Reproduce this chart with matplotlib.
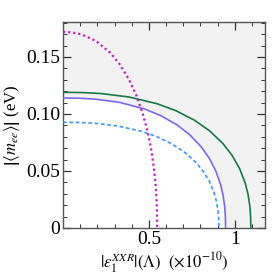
import numpy as np
import matplotlib
matplotlib.use("Agg")
import matplotlib.pyplot as plt
from matplotlib.ticker import MultipleLocator, FixedLocator

plt.rcParams['font.family'] = ['Liberation Serif', 'DejaVu Serif']
plt.rcParams['mathtext.fontset'] = 'stix'

# curves: (|eps|, |<m_ee>|)
green_x = [0.0, 0.1093, 0.2186, 0.3826, 0.5465, 0.6558, 0.7651, 0.8525, 0.9291, 0.9837,
           1.0274, 1.0602, 1.0766, 1.0875, 1.0919, 1.093]
green_y = [0.119, 0.1188, 0.11795, 0.11491, 0.10903, 0.10296, 0.0945, 0.08525, 0.07431, 0.06373,
           0.05214, 0.03941, 0.02965, 0.01882, 0.00964, 0.0]

purple_x = [0.0, 0.0946, 0.1892, 0.3311, 0.473, 0.5676, 0.6622, 0.7379, 0.8041, 0.8514,
            0.8892, 0.9176, 0.9318, 0.9413, 0.9451, 0.946]
purple_y = [0.114, 0.1138, 0.113, 0.11008, 0.10445, 0.09864, 0.09053, 0.08167, 0.07119, 0.06105,
            0.04995, 0.03775, 0.02841, 0.01803, 0.00923, 0.0]

blue_x = [0.0, 0.0907, 0.1814, 0.31745, 0.4535, 0.5442, 0.6349, 0.70746, 0.77095, 0.8163,
          0.85258, 0.87979, 0.8934, 0.90247, 0.90609, 0.907]
blue_y = [0.0927, 0.09255, 0.09188, 0.08951, 0.08493, 0.08021, 0.07362, 0.06641, 0.05788, 0.04965,
          0.04061, 0.0307, 0.0231, 0.01466, 0.00751, 0.0]

magenta_x = [0.0, 0.0548, 0.1096, 0.1918, 0.274, 0.3288, 0.3836, 0.4274, 0.4658, 0.4932,
             0.5151, 0.5316, 0.5398, 0.5453, 0.5475, 0.548]
magenta_y = [0.172, 0.1715, 0.16972, 0.16401, 0.15384, 0.14386, 0.13039, 0.11609, 0.0996, 0.08404,
             0.06739, 0.04959, 0.03634, 0.02212, 0.01065, 0.0]

fig = plt.figure(figsize=(2.72, 2.78), dpi=100)
ax = fig.add_axes([0.2316, 0.180, 0.7424, 0.741])
ax.set_facecolor('#f2f2f2')

ax.fill_between(purple_x, purple_y, 0, color='white', lw=0, zorder=1)

ax.plot(green_x, green_y, color='#157a48', lw=1.2, zorder=3)
ax.plot(purple_x, purple_y, color='#7b68ee', lw=1.2, zorder=3)
ax.plot(blue_x, blue_y, color='#3a96ff', lw=1.2, ls=(0, (2.2, 1.6)), zorder=3)
ax.plot(magenta_x, magenta_y, color='#c020c0', lw=1.6, ls=(0, (1, 1.3)), zorder=3)

ax.set_xlim(0, 1.175)
ax.set_ylim(0, 0.1807)

ax.xaxis.set_major_locator(FixedLocator([0.5, 1.0]))
ax.xaxis.set_minor_locator(MultipleLocator(0.1))
ax.set_xticklabels(['0.5', '1'])
ax.yaxis.set_major_locator(FixedLocator([0, 0.05, 0.10, 0.15]))
ax.yaxis.set_minor_locator(MultipleLocator(0.01))
ax.set_yticklabels(['0', '0.05', '0.10', '0.15'])

ax.tick_params(which='both', direction='in', top=True, right=True, colors='#333333',
               labelcolor='black', labelsize=14, pad=2)
ax.tick_params(which='major', length=6, width=0.9)
ax.tick_params(which='minor', length=3, width=0.7)
for s in ax.spines.values():
    s.set_color('#555555')
    s.set_linewidth(1.0)

ax.set_xlabel(r'$|\epsilon_1^{XXR}|(\Lambda)$  $(\times10^{-10})$', fontsize=12, labelpad=2)
ax.set_ylabel(r'$\left|\langle m_{ee}\rangle\right|$ (eV)', fontsize=12, labelpad=3)

fig.savefig('out.png', dpi=100)
